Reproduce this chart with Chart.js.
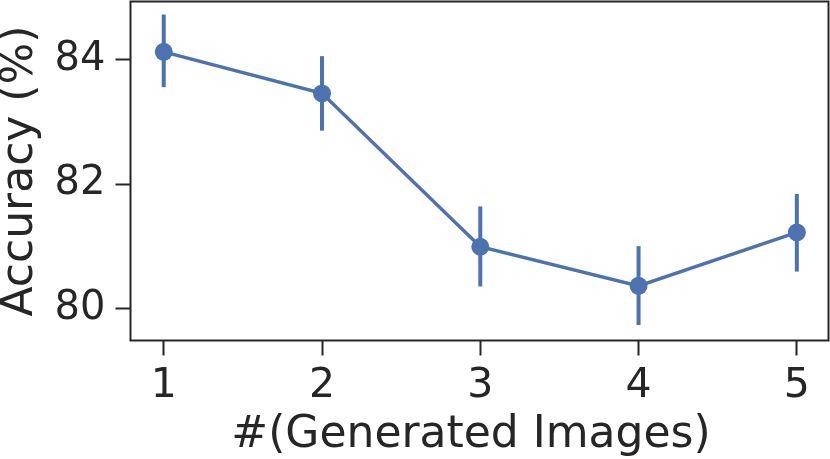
<!DOCTYPE html>
<html>
<head>
<meta charset="utf-8">
<script src="https://cdn.jsdelivr.net/npm/chart.js@4/dist/chart.umd.min.js"></script>
<style>
  html, body { margin: 0; padding: 0; background: #fff; }
  canvas { display: block; }
</style>
</head>
<body>
<canvas id="accChart" width="830" height="459"></canvas>
<script>
// values
const numImages = [1, 2, 3, 4, 5];
const accuracy = [84.13, 83.46, 80.99, 80.36, 81.22];
const errLow = [83.56, 82.86, 80.35, 79.73, 80.59];
const errHigh = [84.73, 84.06, 81.64, 81.00, 81.84];
const yTickValues = [80, 82, 84];
const xTickValues = [1, 2, 3, 4, 5];
const xTitle = '#(Generated Images)';

const blue = '#4c72b0';
const ink = '#262626';
const fontFamily = '"DejaVu Sans", sans-serif';

// vertical error bars, drawn under the line and markers
const errorBars = {
    id: 'errorBars',
    beforeDatasetsDraw(chart) {
        const c = chart.ctx;
        const xs = chart.scales.x, ys = chart.scales.y;
        c.save();
        c.strokeStyle = blue;
        c.lineWidth = 4;
        numImages.forEach((n, i) => {
            const px = xs.getPixelForValue(n);
            c.beginPath();
            c.moveTo(px, ys.getPixelForValue(errLow[i]));
            c.lineTo(px, ys.getPixelForValue(errHigh[i]));
            c.stroke();
        });
        c.restore();
    }
};

// full box around the plot area + the x axis title (sits a bit left of centre)
const frame = {
    id: 'frame',
    afterDraw(chart) {
        const a = chart.chartArea;
        const c = chart.ctx;
        c.save();
        c.strokeStyle = ink;
        c.lineWidth = 2;
        c.strokeRect(a.left, a.top, a.right - a.left, a.bottom - a.top);

        c.fillStyle = ink;
        c.font = '44px ' + fontFamily;
        c.textAlign = 'center';
        c.textBaseline = 'alphabetic';
        c.fillText(xTitle, 471, 447);
        c.restore();
    }
};

function noEdgePadding(s) {
    s.paddingTop = 0;
    s.paddingBottom = 0;
    s.paddingLeft = 0;
    s.paddingRight = 0;
}

new Chart(document.getElementById('accChart'), {
    type: 'line',
    data: {
        datasets: [{
            data: numImages.map((n, i) => ({ x: n, y: accuracy[i] })),
            borderColor: blue,
            backgroundColor: blue,
            borderWidth: 3.4,
            pointRadius: 9,
            pointBorderWidth: 0,
            tension: 0
        }]
    },
    options: {
        responsive: false,
        animation: false,
        layout: { autoPadding: false, padding: { top: 1.5, right: 1.5, left: 0, bottom: 0 } },
        plugins: { legend: { display: false }, tooltip: { enabled: false } },
        scales: {
            x: {
                type: 'linear',
                min: 0.79,
                max: 5.2,
                afterBuildTicks: s => { s.ticks = xTickValues.map(v => ({ value: v })); },
                afterFit: s => { s.height = 118.5; noEdgePadding(s); },
                border: { display: false },
                grid: { drawOnChartArea: false, tickLength: 15, tickWidth: 2, tickColor: ink },
                ticks: { color: ink, padding: 6, font: { family: fontFamily, size: 41 } },
                title: { display: false }
            },
            y: {
                min: 79.48,
                max: 84.94,
                afterBuildTicks: s => { s.ticks = yTickValues.map(v => ({ value: v })); },
                afterFit: s => { s.width = 130.5; noEdgePadding(s); },
                border: { display: false },
                grid: { drawOnChartArea: false, tickLength: 15, tickWidth: 2, tickColor: ink },
                ticks: { color: ink, padding: 10, font: { family: fontFamily, size: 40 } },
                title: {
                    display: true,
                    text: 'Accuracy (%)',
                    color: ink,
                    padding: { top: 0, bottom: 0 },
                    font: { family: fontFamily, size: 44, lineHeight: 0.95 }
                }
            }
        }
    },
    plugins: [errorBars, frame]
});
</script>
</body>
</html>
